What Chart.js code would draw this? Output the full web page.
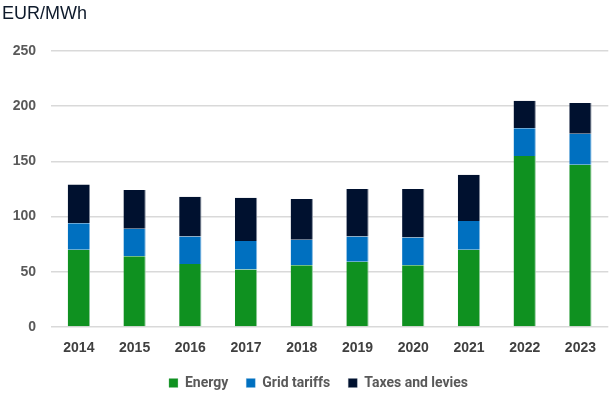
<!DOCTYPE html>
<html>
<head>
<meta charset="utf-8">
<script src="https://cdn.jsdelivr.net/npm/chart.js@4/dist/chart.umd.min.js"></script>
<style>
  html, body { margin: 0; padding: 0; background: #fff; }
  #wrap { position: relative; width: 609px; height: 394px; overflow: hidden; }
  #unit {
    position: absolute; left: 2px; top: 3px;
    font-family: "Liberation Sans", Arial, sans-serif;
    font-size: 18px; color: #0e1a2b;
  }
</style>
</head>
<body>
<div id="wrap">
  <div id="unit">EUR/MWh</div>
  <canvas id="chart" width="609" height="394"></canvas>
</div>
<script>
// ========== DATA ==========
const years = ["2014", "2015", "2016", "2017", "2018", "2019", "2020", "2021", "2022", "2023"];
const energy = [70, 64, 57, 52, 56, 59, 56, 70, 155, 147];
const gridTariffs = [24, 25, 25, 26, 23, 23, 25, 26, 25, 28];
const taxesLevies = [35, 35, 36, 39, 37, 43, 44, 42, 25, 28];

const yTicks = [0, 50, 100, 150, 200, 250];

// nudge the legend a bit right, like the original
const legendShift = {
  id: "legendShift",
  afterLayout(chart) {
    chart.legend.left += 14;
    chart.legend.right += 14;
  }
};

const ctx = document.getElementById("chart");

new Chart(ctx, {
  type: "bar",
  data: {
    labels: years,
    datasets: [
      { label: "Energy", data: energy, backgroundColor: "#0f9120", borderColor: "#8fc89a", borderWidth: { right: 1 } },
      { label: "Grid tariffs", data: gridTariffs, backgroundColor: "#0070c0", borderColor: "#7fb6e0", borderWidth: { right: 1 } },
      { label: "Taxes and levies", data: taxesLevies, backgroundColor: "#00112f", borderColor: "#7f8898", borderWidth: { right: 1 } }
    ]
  },
  options: {
    responsive: false,
    animation: false,
    layout: { padding: { top: 51, right: 0, left: 0, bottom: -6 } },
    datasets: {
      bar: { categoryPercentage: 1.0, barPercentage: 0.4 }
    },
    scales: {
      x: {
        stacked: true,
        afterFit: (scale) => { scale.height = 31; },
        grid: { display: false, drawTicks: false },
        border: { display: false },
        ticks: {
          color: "#404040",
          padding: 13,
          font: { family: "'Liberation Sans', Arial, sans-serif", size: 14, weight: "bold" }
        }
      },
      y: {
        stacked: true,
        min: 0,
        max: 250,
        afterFit: (scale) => { scale.width = 51; },
        afterBuildTicks: (scale) => { scale.ticks = yTicks.map(v => ({ value: v })); },
        grid: { color: "#d9d9d9", lineWidth: 1.5, drawTicks: false },
        border: { display: false },
        ticks: {
          color: "#595959",
          padding: 15,
          font: { family: "'Liberation Sans', Arial, sans-serif", size: 14, weight: "bold" }
        }
      }
    },
    plugins: {
      legend: {
        position: "bottom",
        labels: {
          color: "#595959",
          boxWidth: 9,
          boxHeight: 9,
          padding: 18,
          font: { family: "Roboto, sans-serif", size: 14, weight: "bold" }
        }
      },
      tooltip: { enabled: false }
    }
  },
  plugins: [legendShift]
});
</script>
</body>
</html>
